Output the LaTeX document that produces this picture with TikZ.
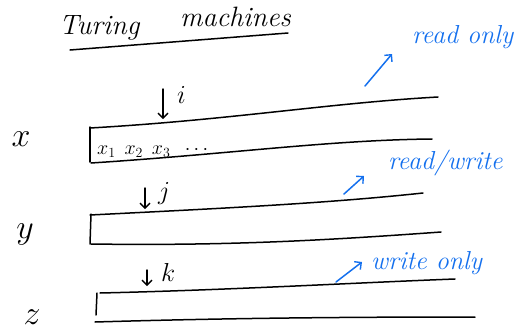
\RequirePackage{fix-cm}
\documentclass[tikz,border=0pt]{standalone}
\usetikzlibrary{arrows.meta}
\definecolor{inkblue}{RGB}{20,112,238}
\begin{document}
\begin{tikzpicture}[x=1pt,y=-1pt,
  ink/.style={line width=1.5pt, line cap=round, line join=round},
  blueink/.style={ink, inkblue},
  headarrow/.style={ink, -{Straight Barb[length=5pt,width=10pt,line width=1.4pt]}},
  bluearrow/.style={blueink, -{Straight Barb[length=5pt,width=10pt,line width=1.4pt]}},
  titletext/.style={inner sep=0pt, font=\itshape\fontsize{28}{30}\selectfont},
  note/.style={inner sep=0pt, text=inkblue, font=\itshape\fontsize{26}{28}\selectfont},
  tapename/.style={inner sep=0pt, font=\fontsize{34}{36}\selectfont},
  headname/.style={inner sep=0pt, font=\fontsize{26}{28}\selectfont},
  celltext/.style={inner sep=0pt, font=\fontsize{20}{22}\selectfont}]
\useasboundingbox (0,0) rectangle (520,335);

% title and its underline
\node[titletext, anchor=base west] (turing) at (59,34) {Turing};
\node[titletext, anchor=base west] (machines) at (180,26) {machines};
\coordinate (ulA) at (70,50);
\coordinate (ulB) at (288,33);
\draw[ink] (ulA) -- (ulB);

% tape x (read only)
\coordinate (xTL) at (90,128);
\coordinate (xTR) at (438,97);
\coordinate (xBL) at (91,163);
\coordinate (xBR) at (432,139);
\draw[ink] (xTL) .. controls (230,120) and (330,103) .. (xTR);
\draw[ink] (90,127) -- (90,162);
\draw[ink] (xBL) .. controls (230,154) and (330,140) .. (xBR);
\node[tapename] (xname) at (21,139) {$x$};
\node[celltext, anchor=base west] (xcells) at (97,154) {$x_1\;\, x_2\;\, x_3\;\; \cdots$};
\coordinate (iTop) at (163,89);
\coordinate (iBot) at (163,119);
\draw[headarrow] (iTop) -- (iBot);
\node[headname, anchor=base west] (ihead) at (177,103) {$i$};
\node[note, anchor=base west] (ronly) at (412,43) {read only};
\coordinate (roA) at (365,86);
\coordinate (roB) at (392,54);
\draw[bluearrow] (roA) -- (roB);

% tape y (read/write)
\coordinate (yTL) at (90,215);
\coordinate (yTR) at (423,193);
\coordinate (yBL) at (91,244);
\coordinate (yBR) at (441,232);
\draw[ink] (yTL) .. controls (230,208) and (330,203) .. (yTR);
\draw[ink] (91,214) -- (90,244);
\draw[ink] (yBL) .. controls (230,246) and (330,240) .. (yBR);
\node[tapename] (yname) at (25,234) {$y$};
\coordinate (jTop) at (145,188);
\coordinate (jBot) at (145,209);
\draw[headarrow] (jTop) -- (jBot);
\node[headname, anchor=base west] (jhead) at (158,199) {$j$};
\node[note, anchor=base west] (rwrite) at (388,169) {read/write};
\coordinate (rwA) at (344,194);
\coordinate (rwB) at (364,176);
\draw[bluearrow] (rwA) -- (rwB);

% tape z (write only)
\coordinate (zTL) at (100,293);
\coordinate (zTR) at (455,279);
\coordinate (zBL) at (95,322);
\coordinate (zBR) at (475,317);
\draw[ink] (zTL) .. controls (230,290) and (350,283) .. (zTR);
\draw[ink] (97,293) -- (96,315);
\draw[ink] (zBL) .. controls (230,318) and (350,317) .. (zBR);
\node[tapename] (zname) at (32,317) {$z$};
\coordinate (kTop) at (147,270);
\coordinate (kBot) at (147,286);
\draw[headarrow] (kTop) -- (kBot);
\node[headname, anchor=base west] (khead) at (161,281) {$k$};
\node[note, anchor=base west] (wonly) at (371,269) {write only};
\coordinate (woA) at (336,282);
\coordinate (woB) at (362,262);
\draw[bluearrow] (woA) -- (woB);
\end{tikzpicture}
\end{document}
